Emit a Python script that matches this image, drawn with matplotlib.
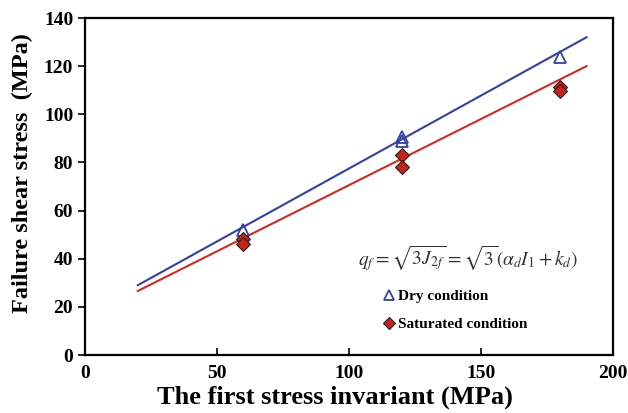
import numpy as np
import matplotlib.pyplot as plt

plt.rcParams['font.family'] = ['Liberation Serif', 'DejaVu Serif']
plt.rcParams['mathtext.fontset'] = 'stix'

# data
dry_x = [60, 120, 120, 180]
dry_y = [52, 90.5, 89, 124]
sat_x = [60, 60, 120, 120, 180, 180]
sat_y = [48, 46, 83, 78, 111.5, 109.5]

# fitted lines (end points)
fit_x = [20, 190]
dry_fit = [29, 132]
sat_fit = [26.6, 120]

fig = plt.figure(figsize=(6.28, 4.13), dpi=100)
ax = fig.add_axes([0.1354, 0.1404, 0.8406, 0.816])

ax.plot(fit_x, dry_fit, color='#3340a8', lw=1.5, zorder=2)
ax.plot(fit_x, sat_fit, color='#d42a1e', lw=1.5, zorder=2)
ax.plot(dry_x, dry_y, ls='none', marker='^', ms=8, mfc='none', mec='#3340a8',
        mew=1.3, label='Dry condition', zorder=3)
ax.plot(sat_x, sat_y, ls='none', marker='D', ms=7, mfc='#c8231a', mec='#222222',
        mew=0.8, label='Saturated condition', zorder=3)

ax.set_xlim(0, 200)
ax.set_ylim(0, 140)
ax.set_xticks([0, 50, 100, 150, 200])
ax.set_yticks(np.arange(0, 141, 20))
ax.tick_params(axis='x', direction='in', length=5, width=1.2, labelsize=14, pad=7)
ax.tick_params(axis='y', direction='out', length=5, width=1.2, labelsize=14)
for lab in ax.get_xticklabels() + ax.get_yticklabels():
    lab.set_fontweight('bold')
for s in ax.spines.values():
    s.set_linewidth(1.6)

ax.set_xlabel('The first stress invariant (MPa)', fontsize=19, fontweight='bold', labelpad=3)
ax.set_ylabel('Failure shear stress  (MPa)', fontsize=17.5, fontweight='bold', labelpad=8)
ax.xaxis.label.set_x(0.474)
ax.yaxis.label.set_y(0.54)

ax.text(145, 40, r'$q_f=\sqrt{3J_{2f}}=\sqrt{3}(\alpha_d I_1+k_d)$', fontsize=14,
        ha='center', va='center', color='#333333')

leg = ax.legend(loc='upper left', bbox_to_anchor=(0.54, 0.235), frameon=False,
                handlelength=0.7, handletextpad=0.25, labelspacing=0.95,
                prop={'weight': 'bold', 'size': 11}, markerscale=0.85)

fig.savefig('out.png', dpi=100)
